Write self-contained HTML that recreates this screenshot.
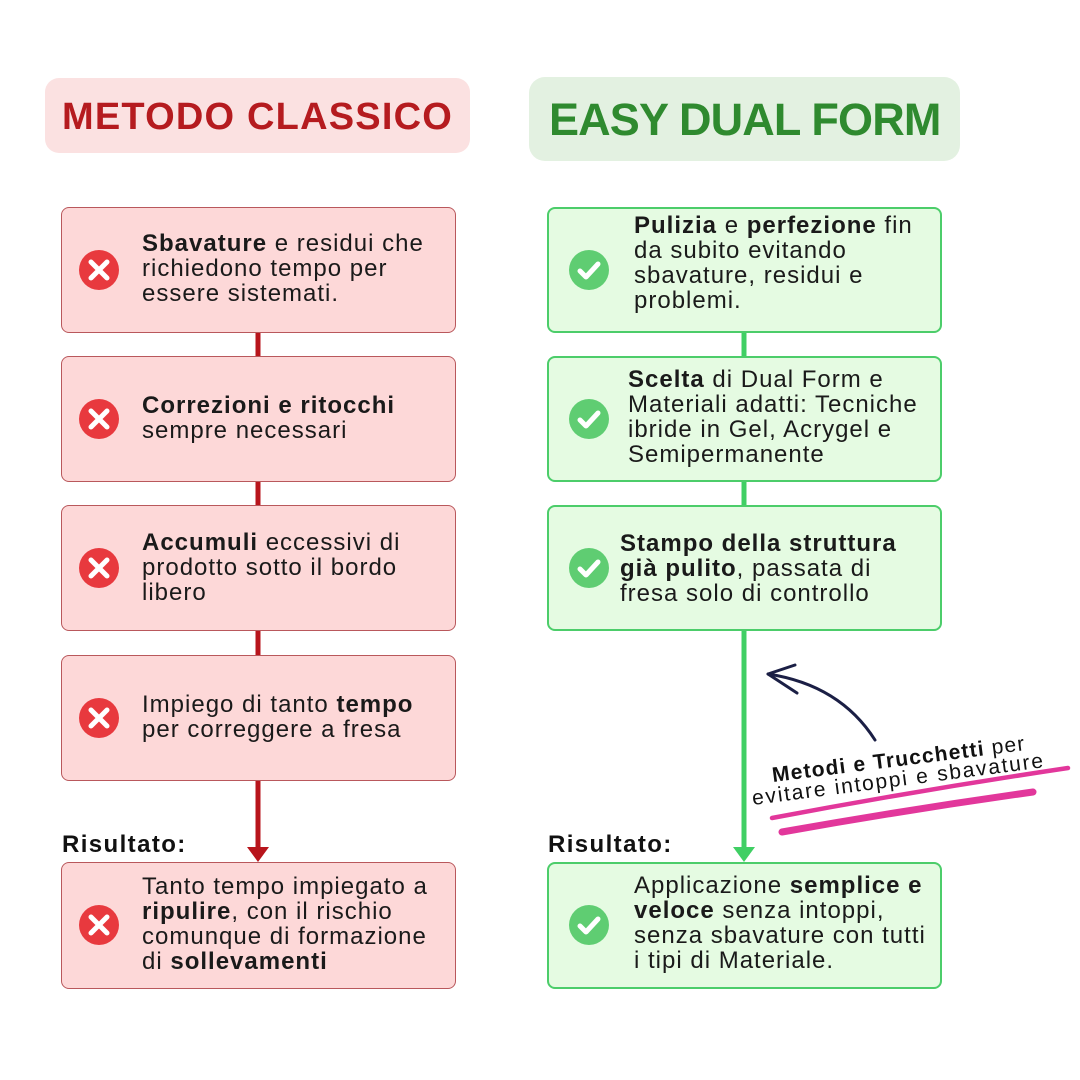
<!DOCTYPE html>
<html>
<head>
<meta charset="utf-8">
<style>
  html,body{margin:0;padding:0;}
  body{width:1080px;height:1080px;position:relative;background:#ffffff;overflow:hidden;font-family:"Liberation Sans",sans-serif;color:#1a1a1a;}
  .abs{position:absolute;}
  .tbox{position:absolute;}
  .title{position:absolute;font-weight:bold;white-space:nowrap;line-height:1;}
  .box{position:absolute;border-radius:8px;box-sizing:border-box;}
  .red{background:#fdd8d8;border:1.5px solid #b9585c;}
  .green{background:#e5fbe2;border:2px solid #4ccd6a;}
  .txt{position:absolute;font-size:24px;line-height:25px;letter-spacing:1px;white-space:nowrap;color:#1a1a1a;}
  .txt b{font-weight:bold;}
  .res{position:absolute;font-size:24px;font-weight:bold;letter-spacing:1.4px;white-space:nowrap;line-height:1;color:#111;}
</style>
</head>
<body>

<!-- Title boxes -->
<div class="tbox" style="left:45px;top:78px;width:425px;height:75px;background:#fbe1e1;border-radius:14px;"></div>
<div class="title" style="left:62px;top:98px;font-size:38px;letter-spacing:1.2px;color:#b51b1f;">METODO CLASSICO</div>

<div class="tbox" style="left:529px;top:77px;width:431px;height:84px;background:#e3f1e1;border-radius:16px;"></div>
<div class="title" style="left:549px;top:97px;font-size:45px;letter-spacing:-0.85px;color:#2f8a2f;">EASY DUAL FORM</div>

<!-- Connector lines and arrows -->
<svg class="abs" style="left:0;top:0;" width="1080" height="1080" viewBox="0 0 1080 1080">
  <line x1="258" y1="330" x2="258" y2="850" stroke="#b8151c" stroke-width="5"/>
  <polygon points="247,847 269,847 258,862" fill="#b8151c"/>
  <line x1="744" y1="330" x2="744" y2="850" stroke="#40cf64" stroke-width="5"/>
  <polygon points="733,847 755,847 744,862" fill="#40cf64"/>
</svg>

<!-- Left boxes -->
<div class="box red" style="left:61px;top:207px;width:395px;height:126px;"></div>
<div class="box red" style="left:61px;top:356px;width:395px;height:126px;"></div>
<div class="box red" style="left:61px;top:505px;width:395px;height:126px;"></div>
<div class="box red" style="left:61px;top:655px;width:395px;height:126px;"></div>
<div class="box red" style="left:61px;top:862px;width:395px;height:127px;"></div>

<!-- Right boxes -->
<div class="box green" style="left:547px;top:207px;width:395px;height:126px;"></div>
<div class="box green" style="left:547px;top:356px;width:395px;height:126px;"></div>
<div class="box green" style="left:547px;top:505px;width:395px;height:126px;"></div>
<div class="box green" style="left:547px;top:862px;width:395px;height:127px;"></div>

<!-- Icons -->
<svg class="abs" style="left:0;top:0;" width="1080" height="1080" viewBox="0 0 1080 1080">
  <defs>
    <g id="xic">
      <circle cx="0" cy="0" r="20" fill="#e8393e"/>
      <path d="M-8,-8 L8,8 M8,-8 L-8,8" stroke="#ffffff" stroke-width="5" stroke-linecap="round"/>
    </g>
    <g id="cic">
      <circle cx="0" cy="0" r="20" fill="#5fcd72"/>
      <path d="M-9,1 L-3,7 L9,-6" stroke="#ffffff" stroke-width="5" fill="none" stroke-linecap="round" stroke-linejoin="round"/>
    </g>
  </defs>
  <use href="#xic" x="99" y="270"/>
  <use href="#xic" x="99" y="419"/>
  <use href="#xic" x="99" y="568"/>
  <use href="#xic" x="99" y="718"/>
  <use href="#xic" x="99" y="925"/>
  <use href="#cic" x="589" y="270"/>
  <use href="#cic" x="589" y="419"/>
  <use href="#cic" x="589" y="568"/>
  <use href="#cic" x="589" y="925"/>
</svg>

<!-- Left texts -->
<div class="txt" style="left:142px;top:231px;"><b>Sbavature</b> e residui che<br>richiedono tempo per<br>essere sistemati.</div>
<div class="txt" style="left:142px;top:393px;"><b>Correzioni e ritocchi</b><br>sempre necessari</div>
<div class="txt" style="left:142px;top:530px;"><b>Accumuli</b> eccessivi di<br>prodotto sotto il bordo<br>libero</div>
<div class="txt" style="left:142px;top:692px;">Impiego di tanto <b>tempo</b><br>per correggere a fresa</div>
<div class="txt" style="left:142px;top:874px;">Tanto tempo impiegato a<br><b>ripulire</b>, con il rischio<br>comunque di formazione<br>di <b>sollevamenti</b></div>

<!-- Right texts -->
<div class="txt" style="left:634px;top:213px;"><b>Pulizia</b> e <b>perfezione</b> fin<br>da subito evitando<br>sbavature, residui e<br>problemi.</div>
<div class="txt" style="left:628px;top:367px;"><b>Scelta</b> di Dual Form e<br>Materiali adatti: Tecniche<br>ibride in Gel, Acrygel e<br>Semipermanente</div>
<div class="txt" style="left:620px;top:531px;"><b>Stampo della struttura<br>già pulito</b>, passata di<br>fresa solo di controllo</div>
<div class="txt" style="left:634px;top:873px;">Applicazione <b>semplice e<br>veloce</b> senza intoppi,<br>senza sbavature con tutti<br>i tipi di Materiale.</div>

<!-- Risultato labels -->
<div class="res" style="left:62px;top:833px;">Risultato:</div>
<div class="res" style="left:548px;top:833px;">Risultato:</div>

<!-- Annotation -->
<svg class="abs" style="left:0;top:0;" width="1080" height="1080" viewBox="0 0 1080 1080">
  <path d="M875,740 Q840,685 768,674" stroke="#1b1f45" stroke-width="3" fill="none" stroke-linecap="round"/>
  <path d="M795,665 L768,674 L797,693" stroke="#1b1f45" stroke-width="3" fill="none" stroke-linecap="round" stroke-linejoin="round"/>
  <path d="M772,818 Q920,790 1068,768" stroke="#e2379b" stroke-width="4.5" fill="none" stroke-linecap="round"/>
  <path d="M782,832 Q905,810 1033,792" stroke="#e2379b" stroke-width="7" fill="none" stroke-linecap="round"/>
  <text x="773" y="782" transform="rotate(-7.2 773 782)" font-family="Liberation Sans, sans-serif" font-size="21" letter-spacing="1.2" fill="#111"><tspan font-weight="bold">Metodi e Trucchetti</tspan> per</text>
  <text x="753" y="805" transform="rotate(-7.4 753 805)" font-family="Liberation Sans, sans-serif" font-size="21" letter-spacing="1.8" fill="#111">evitare intoppi e sbavature</text>
</svg>

</body>
</html>
